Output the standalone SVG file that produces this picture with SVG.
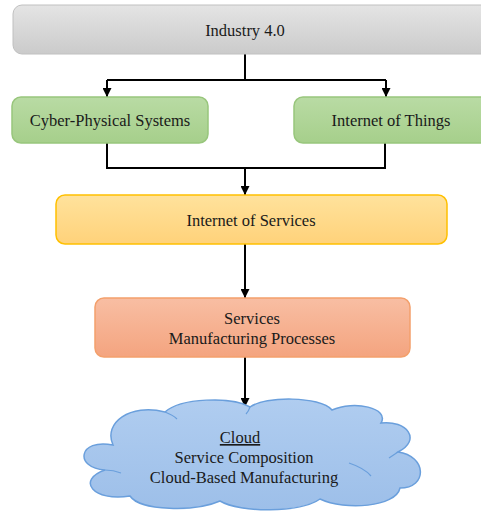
<svg xmlns="http://www.w3.org/2000/svg" width="481" height="514" viewBox="0 0 481 514">
<defs>
<linearGradient id="gGray" x1="0" y1="0" x2="0" y2="1"><stop offset="0" stop-color="#e4e4e4"/><stop offset="1" stop-color="#cbcbcb"/></linearGradient>
<linearGradient id="gGreen" x1="0" y1="0" x2="0" y2="1"><stop offset="0" stop-color="#b9dba4"/><stop offset="1" stop-color="#a6cf8b"/></linearGradient>
<linearGradient id="gYellow" x1="0" y1="0" x2="0" y2="1"><stop offset="0" stop-color="#ffe29c"/><stop offset="1" stop-color="#ffd27a"/></linearGradient>
<linearGradient id="gSalmon" x1="0" y1="0" x2="0" y2="1"><stop offset="0" stop-color="#f8bea3"/><stop offset="1" stop-color="#f4a47f"/></linearGradient>
<linearGradient id="gBlue" x1="0" y1="0" x2="0" y2="1"><stop offset="0" stop-color="#b0cdf0"/><stop offset="1" stop-color="#9dbfe9"/></linearGradient>
<marker id="arr" viewBox="0 0 10 10" refX="10" refY="5" markerWidth="4.5" markerHeight="4.5" orient="auto" markerUnits="strokeWidth"><path d="M0,0 L10,5 L0,10 Z" fill="#000"/></marker>
</defs>
<style>
.t{font-family:'Liberation Serif','Times New Roman','DejaVu Serif',serif;font-size:16.5px;fill:#1a1a1a;text-anchor:middle}
.c{fill:none;stroke:#000;stroke-width:2}
</style>
<rect width="481" height="514" fill="#fff"/>
<g id="connectors">
<path class="c" d="M245,54 V80 M107,80 H386"/>
<path class="c" d="M107,80 V97" marker-end="url(#arr)"/>
<path class="c" d="M386,80 V97" marker-end="url(#arr)"/>
<path class="c" d="M107,143 V168 H385 V143"/>
<path class="c" d="M245,168 V195" marker-end="url(#arr)"/>
<path class="c" d="M245,244 V298" marker-end="url(#arr)"/>
<path class="c" d="M245,357 V407" marker-end="url(#arr)"/>
</g>
<g id="industry">
<rect x="13" y="5" width="490" height="49" rx="9" fill="url(#gGray)" stroke="#c0c0c0" stroke-width="1"/>
<text class="t" x="245" y="36" font-family="Liberation Serif, serif">Industry 4.0</text>
</g>
<g id="cps">
<rect x="12" y="97" width="196" height="46" rx="9" fill="url(#gGreen)" stroke="#98c67c" stroke-width="1.5"/>
<text class="t" x="110" y="126" font-family="Liberation Serif, serif">Cyber-Physical Systems</text>
</g>
<g id="iot">
<rect x="294" y="97" width="200" height="46" rx="9" fill="url(#gGreen)" stroke="#98c67c" stroke-width="1.5"/>
<text class="t" x="391" y="126" font-family="Liberation Serif, serif">Internet of Things</text>
</g>
<g id="ios">
<rect x="56" y="195" width="391" height="49" rx="9" fill="url(#gYellow)" stroke="#ffc000" stroke-width="1.5"/>
<text class="t" x="251" y="226" font-family="Liberation Serif, serif">Internet of Services</text>
</g>
<g id="services">
<rect x="95" y="298" width="315" height="59" rx="9" fill="url(#gSalmon)" stroke="#f3a06c" stroke-width="1.5"/>
<text class="t" x="252" y="324" font-family="Liberation Serif, serif">Services</text>
<text class="t" x="252" y="344" font-family="Liberation Serif, serif">Manufacturing Processes</text>
</g>
<g id="cloud">
<path d="M113,445 C103,423 130,403 165,412 C180,398 232,396 250,407 C265,396 320,396 332,410 C354,400 390,408 381,423 C407,420 422,440 398,452 C427,456 428,488 400,488 C396,507 345,511 320,499 C300,513 240,513 220,501 C195,512 140,511 130,496 C93,502 76,480 105,470 C74,468 78,438 113,445 Z" fill="url(#gBlue)" stroke="#6a9fdc" stroke-width="1.5"/>
<path d="M105,470 C110,470 116,471 121,473 M398,452 C395,454 392,456 389,458 M349,463 C358,466 366,470 371,476 M250,407 C249,410 248,412 246,414 M165,412 C170,414 174,416 177,419" fill="none" stroke="#6a9fdc" stroke-width="1.2"/>
<text class="t" x="240" y="443" text-decoration="underline" font-family="Liberation Serif, serif">Cloud</text>
<text class="t" x="244" y="463" font-family="Liberation Serif, serif">Service Composition</text>
<text class="t" x="244" y="483" font-family="Liberation Serif, serif">Cloud-Based Manufacturing</text>
</g>
</svg>
